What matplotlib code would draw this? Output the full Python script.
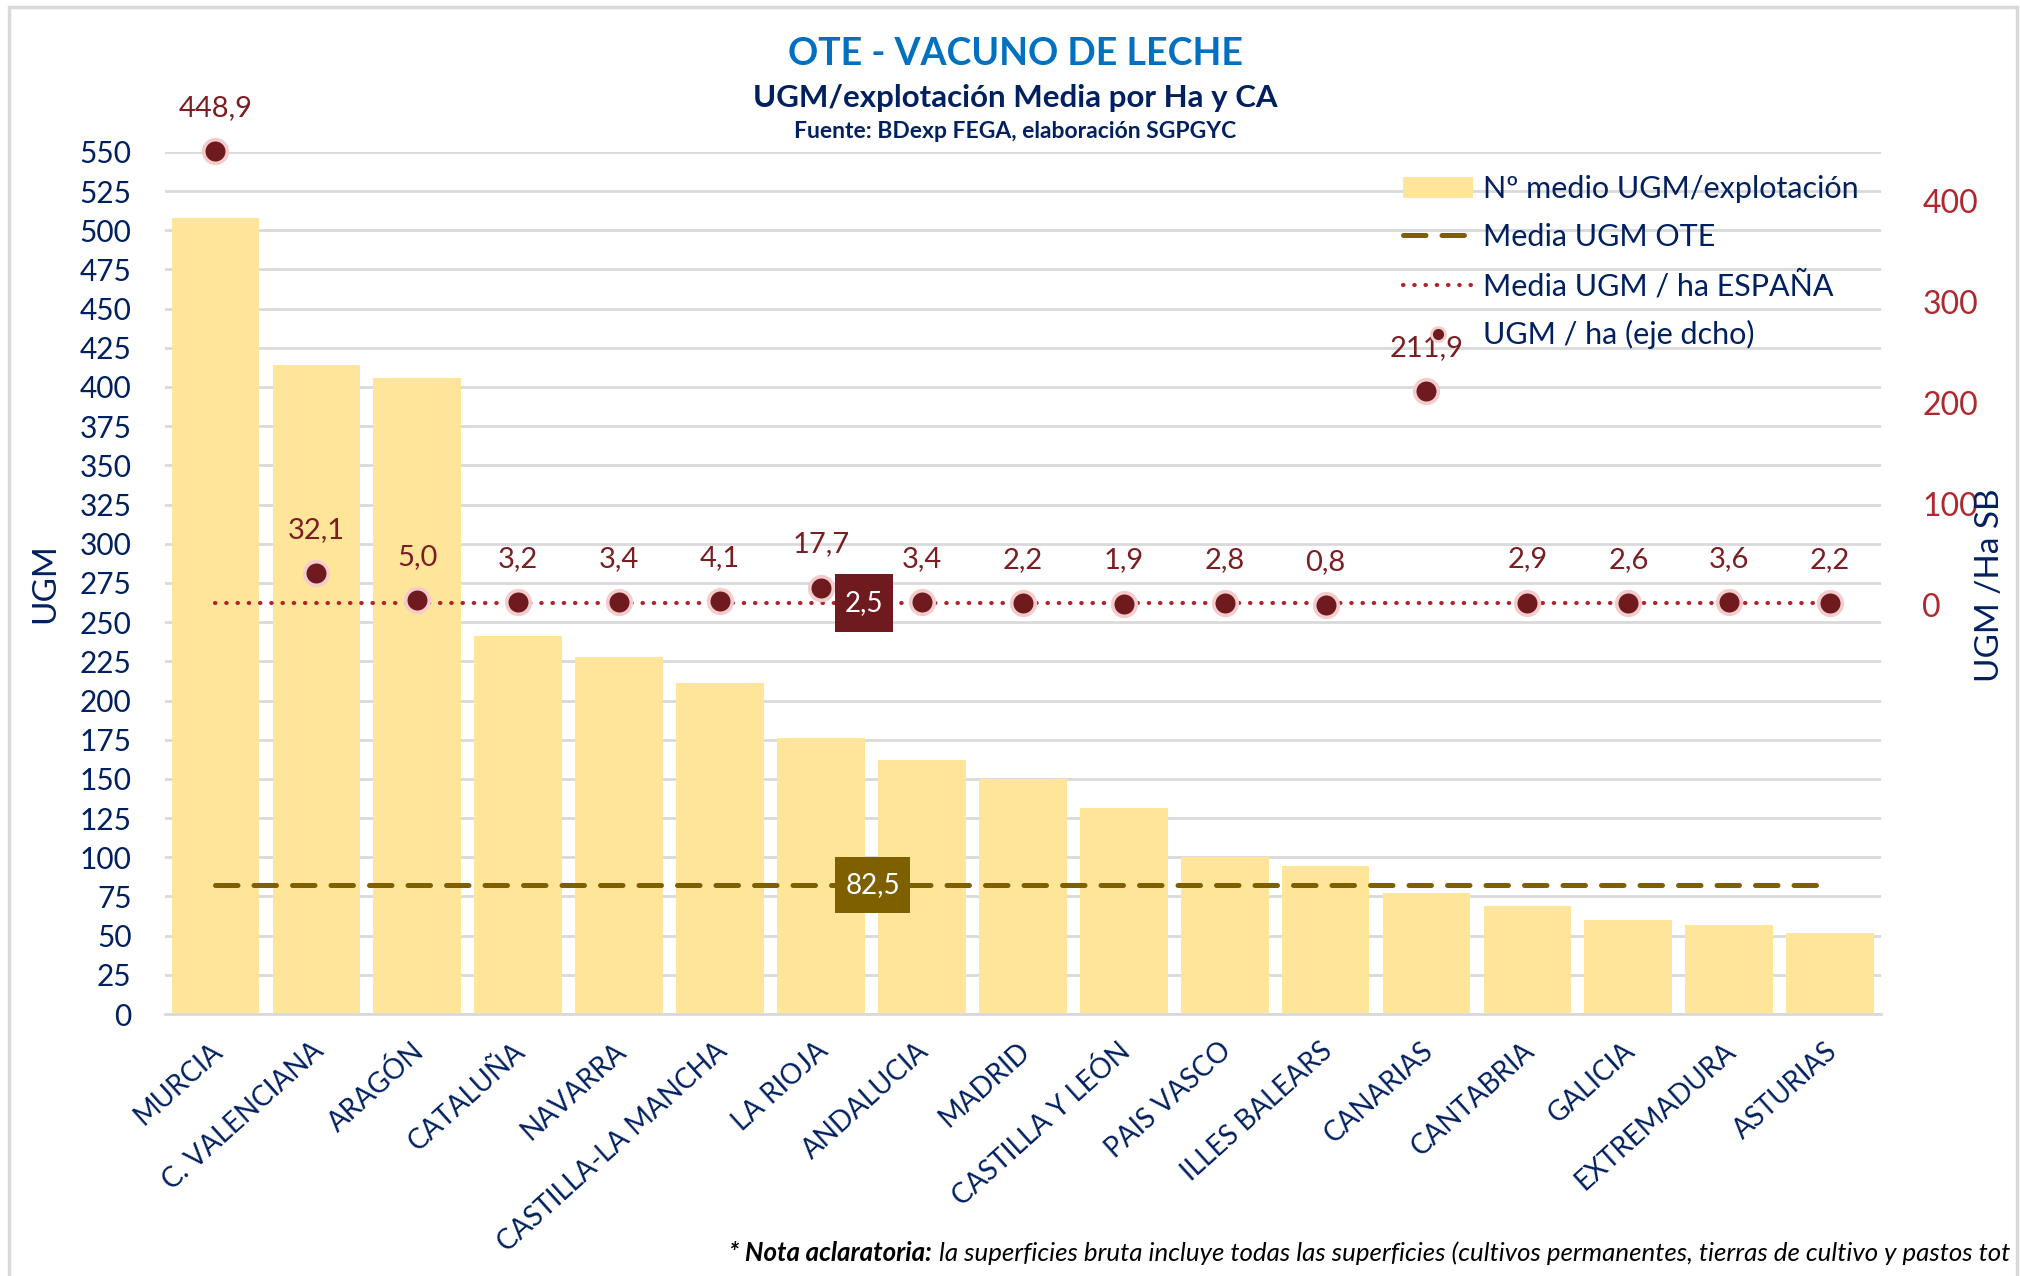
import matplotlib
matplotlib.use("Agg")
import matplotlib.pyplot as plt
from matplotlib.patches import Patch, Rectangle
from matplotlib.lines import Line2D
import matplotlib.transforms as mtransforms

plt.rcParams['font.family'] = ['Lato', 'DejaVu Sans']

# data
regiones = ['MURCIA', 'C. VALENCIANA', 'ARAGÓN', 'CATALUÑA', 'NAVARRA',
            'CASTILLA-LA MANCHA', 'LA RIOJA', 'ANDALUCIA', 'MADRID',
            'CASTILLA Y LEÓN', 'PAIS VASCO', 'ILLES BALEARS', 'CANARIAS',
            'CANTABRIA', 'GALICIA', 'EXTREMADURA', 'ASTURIAS']
ugm_explotacion = [508, 414, 406, 241, 228, 211, 176, 162, 150, 131.5,
                   100, 94.5, 77, 69, 60, 56.5, 52]
ugm_ha = [448.9, 32.1, 5.0, 3.2, 3.4, 4.1, 17.7, 3.4, 2.2, 1.9, 2.8, 0.8,
          211.9, 2.9, 2.6, 3.6, 2.2]
media_ugm_ote = 82.5
media_ugm_ha = 2.5

NAVY = '#002060'
BAR = '#FFE599'
BROWN = '#7F6000'
DOT = '#6E1A1E'
DOT_EDGE = '#F4CCCC'
RED_LINE = '#B22228'
RED_TICK = '#B0282D'
GRID = '#D9D9D9'

fig = plt.figure(figsize=(20.2, 12.76), dpi=100)
fig.patches.append(Rectangle((9 / 2020, -0.05), (2017 - 9) / 2020, 1.05 - 7 / 1276,
                             transform=fig.transFigure, fill=False,
                             edgecolor='#D9D9D9', linewidth=2.5))

ax = fig.add_axes([0.0817, 0.2053, 0.8493, 0.6757])
x = list(range(len(regiones)))

ax.bar(x, ugm_explotacion, width=0.87, color=BAR, zorder=2)
ax.plot([x[0], x[-1]], [media_ugm_ote] * 2, color=BROWN, linewidth=3.6,
        dashes=(4.5, 3.2), dash_capstyle='round', zorder=3)

ax.set_xlim(-0.5, len(regiones) - 0.5)
ax.set_ylim(0, 550)
ax.set_yticks(range(0, 551, 25))
ax.grid(axis='y', color=GRID, linewidth=2, zorder=0)
ax.set_axisbelow(True)
for s in ['top', 'right', 'left']:
    ax.spines[s].set_visible(False)
ax.spines['bottom'].set_color(GRID)
ax.spines['bottom'].set_linewidth(2)
ax.tick_params(axis='both', length=0)
ax.tick_params(axis='y', labelsize=21.5, labelcolor=NAVY, pad=24)
ax.set_xticks(x)
ax.set_xticklabels(regiones, rotation=42, ha='right', va='center',
                   rotation_mode='anchor', fontsize=20, color=NAVY)
ax.tick_params(axis='x', pad=24)
offset = mtransforms.ScaledTranslation(3 / 100, 0, fig.dpi_scale_trans)
for lbl in ax.get_xticklabels():
    lbl.set_transform(lbl.get_transform() + offset)


def label_box(axis, xd, yd, text, color, w, h):
    # box of fixed size (inches) centred on a data point
    trans = fig.dpi_scale_trans + mtransforms.ScaledTranslation(xd, yd, axis.transData)
    axis.add_patch(Rectangle((-w / 2, -h / 2), w, h, transform=trans,
                             facecolor=color, edgecolor='none', zorder=6,
                             clip_on=False))
    axis.text(xd, yd, text, ha='center', va='center', fontsize=20,
              color='white', zorder=7)


label_box(ax, 6.51, media_ugm_ote, '82,5', BROWN, 0.75, 0.56)

ax2 = ax.twinx()
ax2.set_ylim(-404, 448.5)
ax2.set_yticks([0, 100, 200, 300, 400])
for s in ax2.spines.values():
    s.set_visible(False)
ax2.tick_params(axis='y', length=0, labelsize=23, labelcolor=RED_TICK, pad=30)

ax2.plot([x[0], x[-1]], [media_ugm_ha] * 2, color=RED_LINE, linewidth=3,
         dashes=(0.1, 2.6), dash_capstyle='round', zorder=3)
ax2.plot(x, ugm_ha, linestyle='none', marker='o', markersize=17,
         markerfacecolor=DOT, markeredgecolor=DOT_EDGE, markeredgewidth=2.6,
         clip_on=False, zorder=5)
for xi, v in zip(x, ugm_ha):
    ax2.annotate(f'{v:.1f}'.replace('.', ','), (xi, v), xytext=(0, 31),
                 textcoords='offset points', ha='center', va='center',
                 fontsize=21, color='#7B1E22', annotation_clip=False)
label_box(ax2, 6.425, media_ugm_ha, '2,5', DOT, 0.58, 0.58)

handles = [Patch(facecolor=BAR, edgecolor='none'),
           Line2D([], [], color=BROWN, linewidth=3.6, dashes=(4.5, 3.2),
                  dash_capstyle='round'),
           Line2D([], [], color=RED_LINE, linewidth=3, dashes=(0.1, 2.6),
                  dash_capstyle='round'),
           Line2D([], [], linestyle='none', marker='o', markersize=10,
                  markerfacecolor=DOT, markeredgecolor=DOT_EDGE,
                  markeredgewidth=2)]
labels = ['Nº medio UGM/explotación', 'Media UGM OTE',
          'Media UGM / ha ESPAÑA', 'UGM / ha (eje dcho)']
leg = ax2.legend(handles, labels, loc='upper left',
                 bbox_to_anchor=(1403 / 2020, 1 - 175 / 1276),
                 bbox_transform=fig.transFigure, frameon=False, fontsize=22,
                 handlelength=2.3, handletextpad=0.33, labelspacing=0.65,
                 borderpad=0, borderaxespad=0)
for t in leg.get_texts():
    t.set_color(NAVY)

fig.text(45 / 2020, 1 - 583 / 1276, 'UGM', rotation=90, ha='center',
         va='center', fontsize=24, color=NAVY)
fig.text(1990 / 2020, 1 - 585 / 1276, 'UGM /Ha SB', rotation=90, ha='center',
         va='center', fontsize=24, color=NAVY)

fig.text(0.5025, 0.958, 'OTE - VACUNO DE LECHE', ha='center', va='center',
         fontsize=27, fontweight='bold', color='#0070C0')
fig.text(0.5025, 0.923, 'UGM/explotación Media por Ha y CA', ha='center',
         va='center', fontsize=22.5, fontweight='bold', color=NAVY)
fig.text(0.5025, 0.897, 'Fuente: BDexp FEGA, elaboración SGPGYC', ha='center',
         va='center', fontsize=16.5, fontweight='bold', color=NAVY)

# the note runs off the right edge in the reference; keep the visible part
fig.canvas.draw()
renderer = fig.canvas.get_renderer()
note1 = fig.text(729 / 2020, 0.018, '* Nota aclaratoria:', ha='left',
                 va='center', fontsize=18.6, fontstyle='italic',
                 fontweight='bold', color='black')
bb = note1.get_window_extent(renderer)
fig.text((bb.x1 + 7) / 2020, 0.018,
         'la superficies bruta incluye todas las superficies (cultivos '
         'permanentes, tierras de cultivo y pastos tot',
         ha='left', va='center', fontsize=18.6, fontstyle='italic', color='black')

fig.savefig('out.png', dpi=100)
